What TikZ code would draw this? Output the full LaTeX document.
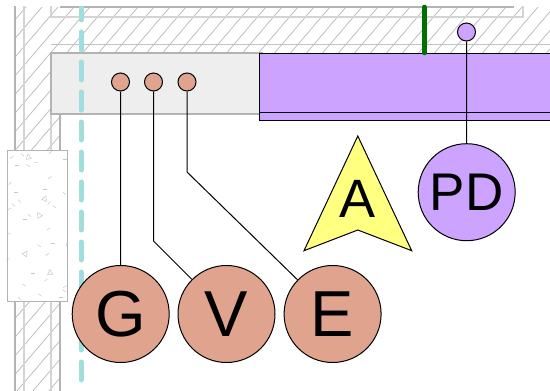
\documentclass[tikz,border=0pt]{standalone}
\usepackage{fontspec}
\setmainfont{Liberation Sans}
\definecolor{wallg}{HTML}{B3B3B3}
\definecolor{walll}{HTML}{D4D4D4}
\definecolor{hatchc}{HTML}{BDBDBD}
\definecolor{aqua}{HTML}{A0DDDD}
\definecolor{salmon}{HTML}{E0A48E}
\definecolor{lilac}{HTML}{CCA3FF}
\definecolor{paley}{HTML}{FFFF80}
\definecolor{boxg}{HTML}{EEEEEE}
\definecolor{greenbar}{HTML}{007000}
\tikzset{
  wall/.style={draw=wallg,line width=1.6pt},
  wallthin/.style={draw=walll,line width=1.2pt},
  hatchline/.style={draw=hatchc,line width=0.8pt},
  speck/.style={draw=black!22,line width=0.5pt},
  dot/.style={circle,draw=black,line width=1pt,minimum size=18pt,inner sep=0pt},
  big/.style={circle,draw=black,line width=1pt,minimum size=97pt,inner sep=0pt,font=\fontsize{65}{65}\selectfont},
  conn/.style={draw=black,line width=1pt},
}
\begin{document}
\begin{tikzpicture}[x=1pt,y=-1pt]
\useasboundingbox (0,0) rectangle (550,391);
% hatch
\begin{scope}
\clip (15,7) -- (550,7) -- (550,53) -- (60,53) -- (60,391) -- (15,391) -- cycle;
\foreach \c in {0,16,...,1040} \draw[hatchline] (\c,0) -- ++(-420,490);
\end{scope}
% wall lines
\draw[wall] (15,6) -- (15,391);
\draw[wallthin] (24,6) -- (24,391);
\draw[wallthin] (51,6) -- (51,17) -- (523,17) -- (523,6);
\draw[wallthin] (51,114) -- (51,391);
\draw[wall] (60,114) -- (60,391);
\draw[wall] (60,7) -- (514,7);
\draw[wallthin,draw=wallg!80] (51,44.5) -- (550,44.5);
% grey box and purple member
\path[fill=boxg,draw=wallg,line width=1.4pt] (51,53) rectangle (262,114);
\path[fill=lilac,draw=black,line width=1pt] (259.5,53) rectangle (551,120);
\draw[black,line width=1pt] (259.5,112) -- (551,112);
\draw[draw=greenbar,line width=4.5pt,line cap=round] (424.5,7) -- (424.5,53);
% concrete
\path[fill=white,draw=wallg,line width=1pt] (7,150) rectangle (67,301);
\begin{scope}[shift={(0,140)},x=0.3333pt,y=-0.3333pt]
\foreach \a/\b/\r in {35/52/30,68/45/-40,50/75/0,85/77/-30,108/67/5,152/37/40,195/57/0,30/130/40,150/113/30,47/158/0,135/147/0,193/160/-45,40/195/-40,58/183/-45,28/207/30,147/190/45,163/200/-30,88/226/-40,75/237/0,145/267/35,25/282/30,117/317/-30,158/310/0,142/343/40,200/313/80,23/358/20,98/400/0,138/420/40,72/435/-30,195/440/30,192/452/-30,58/475/-40,120/465/-40,183/471/0}
  \draw[speck] (\a,\b) ++(\r:2pt) -- ++(\r+180:4pt);
\foreach \a/\b/\r in {85/50/10,135/175/-25,117/225/30,77/340/-35,150/397/5}
  \draw[speck,rotate around={\r:(\a,\b)}] (\a,\b-8) -- (\a+8,\b+7) -- (\a-8,\b+7) -- cycle;
\end{scope}
% centre line
\begin{scope}
\clip (70,6) rectangle (95,391);
\draw[draw=aqua,line width=5pt,line cap=round,dash pattern=on 18pt off 12pt] (81,2) -- (81,391);
\end{scope}
% nodes
\node[dot,fill=salmon] (g0) at (120.5,82) {};
\node[dot,fill=salmon] (v0) at (153.5,82) {};
\node[dot,fill=salmon] (e0) at (187,82) {};
\node[dot,fill=lilac] (p0) at (466.5,32) {};
\coordinate (vb) at (153.5,241);
\coordinate (eb) at (187,172);
\node[big,fill=salmon] (g) at (120.7,314) {G};
\node[big,fill=salmon] (v) at (226.5,314) {\raisebox{-4.5pt}{V}};
\node[big,fill=salmon] (e) at (332.6,314) {\raisebox{-1.7pt}{E}};
\node[big,fill=lilac,font=\fontsize{53}{53}\selectfont] (pd) at (466.7,192.2) {\raisebox{-1.5pt}{PD}};
\draw[conn] (g0) -- (g);
\draw[conn] (v0) -- (vb) -- (v);
\draw[conn] (e0) -- (eb) -- (e);
\draw[conn] (p0) -- (pd);
% north arrow
\path[fill=paley,draw=black,line width=1pt] (357.8,136) -- (411.7,250.7) -- (357.8,230) -- (304,250.7) -- cycle;
\node[font=\fontsize{54}{54}\selectfont,inner sep=0pt] (a) at (357.8,198.5) {A};
\end{tikzpicture}
\end{document}
